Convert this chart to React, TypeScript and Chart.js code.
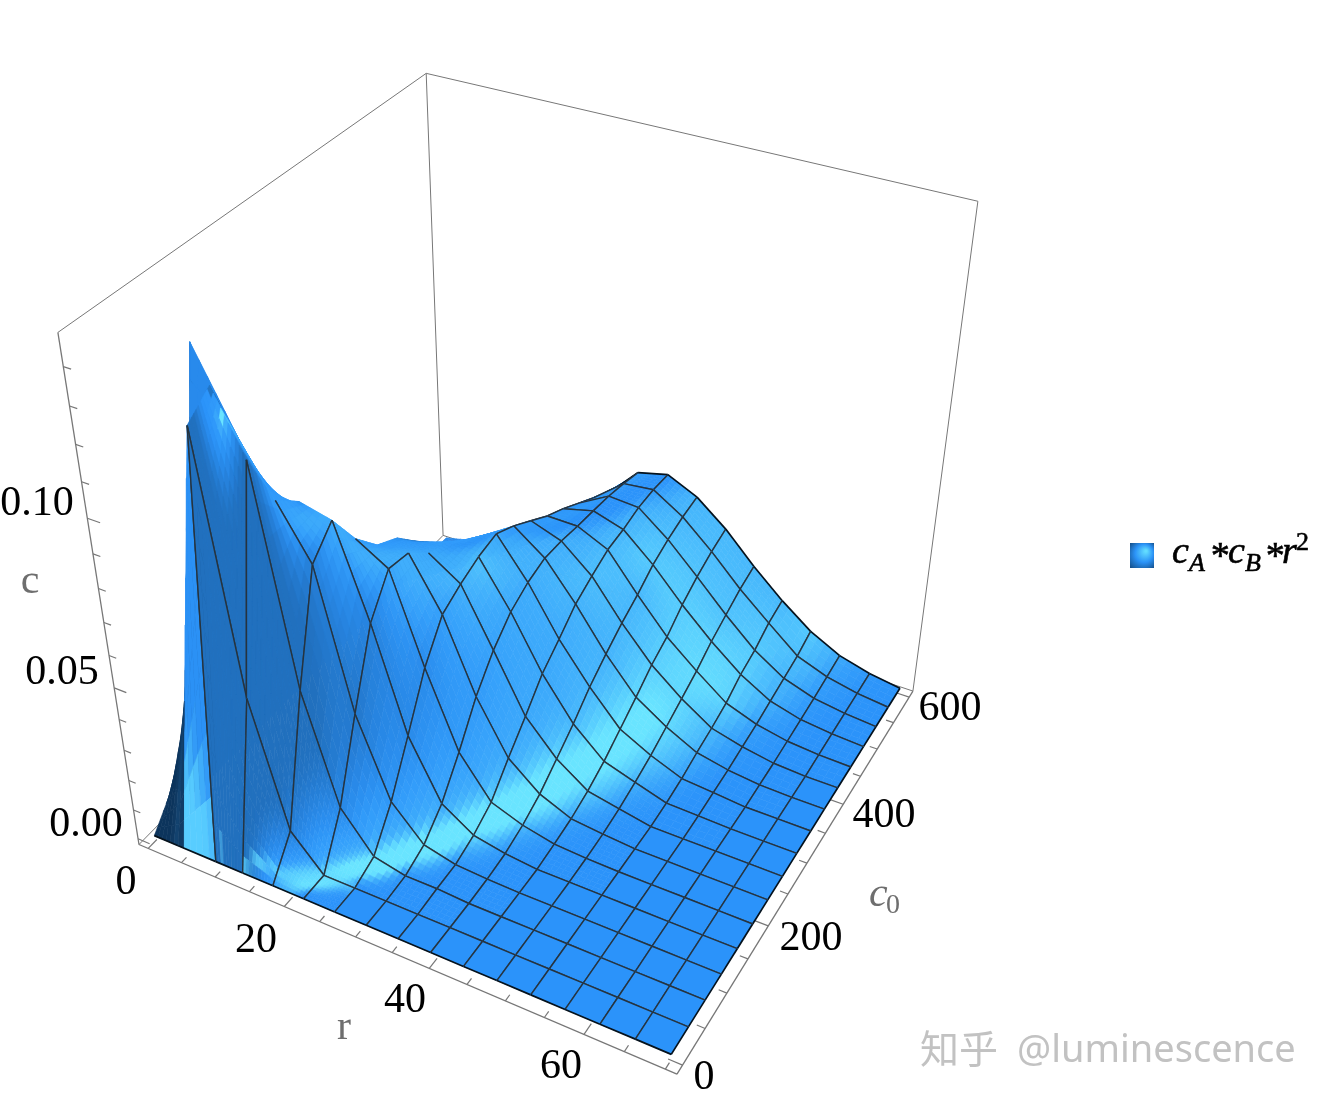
import React, { useEffect, useRef } from "react";
import { Chart, registerables } from "chart.js";
Chart.register(...registerables);

const rGrid = [0, 3.6, 9.2, 13.125, 17.5, 21.875, 26.25, 30.625, 35, 39.375, 43.75, 48.125, 52.5, 56.875, 61.25, 65.625, 70];
const c0Grid = [0, 37.5, 75, 112.5, 150, 187.5, 225, 262.5, 300, 337.5, 375, 412.5, 450, 487.5, 525, 562.5, 600];

const zAtR0 = [0, 0.0089, 0, 0, 0, 0, 0, 0, 0, 0, 0, 0, 0, 0, 0, 0, 0];
const zAtR1 = [0, 0.037, 0.078, 0.1333, 0.1044, 0.0855, 0.0597, 0.0477, 0.037, 0.0293, 0.023, 0.0183, 0.0135, 0.0102, 0.0069, 0.0035, 0.0018];
const zAtR2 = [0, 0.125, 0.1303, 0.1094, 0.085, 0.0753, 0.0591, 0.0504, 0.0414, 0.0338, 0.0293, 0.0247, 0.02, 0.0152, 0.0119, 0.0086, 0.0052];
const zAtR3 = [0, 0.0501, 0.1132, 0.0965, 0.0905, 0.0701, 0.0616, 0.0499, 0.0426, 0.0367, 0.0323, 0.0278, 0.0231, 0.0194, 0.0152, 0.012, 0.0086];
const zAtR4 = [0, 0.0109, 0.0494, 0.0812, 0.0882, 0.077, 0.0692, 0.0655, 0.0585, 0.05, 0.0391, 0.0343, 0.0301, 0.0265, 0.0228, 0.019, 0.0151];
const zAtR5 = [0, 0, 0.0153, 0.039, 0.0608, 0.0712, 0.07, 0.0641, 0.0615, 0.0565, 0.052, 0.044, 0.0364, 0.0322, 0.0282, 0.0255, 0.0231];
const zAtR6 = [0, 0, 0.0029, 0.0139, 0.0287, 0.0439, 0.0543, 0.0577, 0.0602, 0.0615, 0.0582, 0.0541, 0.0499, 0.0466, 0.0428, 0.039, 0.035];
const zAtR7 = [0, 0, 0.0006, 0.0034, 0.0099, 0.02, 0.0315, 0.04, 0.046, 0.0493, 0.0511, 0.0507, 0.0497, 0.049, 0.0482, 0.0468, 0.045];
const zAtR8 = [0, 0, 0.0006, 0.0009, 0.0032, 0.007, 0.0147, 0.0218, 0.0293, 0.0342, 0.0395, 0.0425, 0.0452, 0.046, 0.0475, 0.0478, 0.0473];
const zAtR9 = [0, 0, 0, 0.0003, 0.0011, 0.0032, 0.0064, 0.0112, 0.0161, 0.0218, 0.0263, 0.0303, 0.0335, 0.0375, 0.04, 0.0418, 0.0428];
const zAtR10 = [0, 0, 0, 0, 0, 0.0009, 0.002, 0.0041, 0.0071, 0.0111, 0.0152, 0.0196, 0.0227, 0.0273, 0.0307, 0.0333, 0.0351];
const zAtR11 = [0, 0, 0, 0, 0, 0.0003, 0.0009, 0.002, 0.0038, 0.0059, 0.0087, 0.0116, 0.0145, 0.0182, 0.021, 0.0237, 0.0255];
const zAtR12 = [0, 0, 0, 0, 0, 0, 0, 0, 0.0006, 0.0018, 0.0036, 0.0051, 0.007, 0.0103, 0.0122, 0.0153, 0.0169];
const zAtR13 = [0, 0, 0, 0, 0, 0, 0, 0, 0.0003, 0.0009, 0.0015, 0.0024, 0.0033, 0.0046, 0.0059, 0.0072, 0.0095];
const zAtR14 = [0, 0, 0, 0, 0, 0, 0, 0, 0, 0, 0.0003, 0.0006, 0.0012, 0.0018, 0.0025, 0.0034, 0.0044];
const zAtR15 = [0, 0, 0, 0, 0, 0, 0, 0, 0, 0, 0, 0, 0.0003, 0.0006, 0.0009, 0.0012, 0.0016];
const zAtR16 = [0, 0, 0, 0, 0, 0, 0, 0, 0, 0, 0, 0, 0, 0, 0, 0, 0];
const surfaceZ = [zAtR0, zAtR1, zAtR2, zAtR3, zAtR4, zAtR5, zAtR6, zAtR7, zAtR8, zAtR9, zAtR10, zAtR11, zAtR12, zAtR13, zAtR14, zAtR15, zAtR16];

const rTicks = [0, 5, 10, 15, 20, 25, 30, 35, 40, 45, 50, 55, 60, 65, 70];
const c0Ticks = [0, 50, 100, 150, 200, 250, 300, 350, 400, 450, 500, 550, 600];
const zTicks = [0, 0.01, 0.02, 0.03, 0.04, 0.05, 0.06, 0.07, 0.08, 0.09, 0.1, 0.11, 0.12, 0.13, 0.14];
const rMajor = [0, 20, 40, 60];
const c0Major = [0, 200, 400, 600];
const zMajor = [0, 0.05, 0.1];

const R_MIN = -1.4, R_MAX = 71.4, C_MIN = -12, C_MAX = 612, Z_MIN = -0.002, Z_MAX = 0.1485;

// Camera: a projective map of the plot box, solved from where its corners fall on the page.
const boxCorners: [number, number, number, number, number][] = [
  [0, 0, 0, 138, 845], [1, 0, 0, 678, 1073], [1, 1, 0, 912, 693], [0, 1, 0, 444, 534],
  [0, 0, 1, 58, 333], [1, 1, 1, 978, 200], [0, 1, 1, 426, 74],
];
function solveCamera(): number[] {
  const rows: number[][] = [];
  const rhs: number[] = [];
  for (const [u, v, w, px, py] of boxCorners) {
    const x = px / 1000, y = py / 1000;
    rows.push([u, v, w, 1, 0, 0, 0, 0, -x * u, -x * v, -x * w]); rhs.push(x);
    rows.push([0, 0, 0, 0, u, v, w, 1, -y * u, -y * v, -y * w]); rhs.push(y);
  }
  const n = 11;
  const M: number[][] = [];
  for (let i = 0; i < n; i++) {
    const line = new Array(n + 1).fill(0);
    for (let k = 0; k < rows.length; k++) {
      for (let j = 0; j < n; j++) line[j] += rows[k][i] * rows[k][j];
      line[n] += rows[k][i] * rhs[k];
    }
    M.push(line);
  }
  for (let i = 0; i < n; i++) {
    let best = i;
    for (let k = i + 1; k < n; k++) if (Math.abs(M[k][i]) > Math.abs(M[best][i])) best = k;
    [M[i], M[best]] = [M[best], M[i]];
    for (let k = 0; k < n; k++) {
      if (k === i) continue;
      const f = M[k][i] / M[i][i];
      for (let j = i; j <= n; j++) M[k][j] -= f * M[i][j];
    }
  }
  return M.map((l, i) => l[n] / l[i]);
}
const cam = solveCamera();
const uOf = (r: number) => (r - R_MIN) / (R_MAX - R_MIN);
const vOf = (c: number) => (c - C_MIN) / (C_MAX - C_MIN);
const wOf = (z: number) => (z - Z_MIN) / (Z_MAX - Z_MIN);
function projectBox(u: number, v: number, w: number) {
  const d = cam[8] * u + cam[9] * v + cam[10] * w + 1;
  return {
    x: (1000 * (cam[0] * u + cam[1] * v + cam[2] * w + cam[3])) / d,
    y: (1000 * (cam[4] * u + cam[5] * v + cam[6] * w + cam[7])) / d,
  };
}
const project = (r: number, c: number, z: number) => projectBox(uOf(r), vOf(c), wOf(z));

const mix = (a: number[], b: number[], t: number) => a.map((x, i) => x + (b[i] - x) * t);
const smooth = (e0: number, e1: number, x: number) => {
  const t = Math.min(1, Math.max(0, (x - e0) / (e1 - e0)));
  return t * t * (3 - 2 * t);
};
const FLAT = [43, 147, 250];
const GLOW = [105, 228, 255];
const DEEP = [33, 112, 190];
const NAVY = [10, 50, 90];
const css = (c: number[]) => `rgb(${Math.round(c[0])},${Math.round(c[1])},${Math.round(c[2])})`;
function shade(gx: number, gy: number): number[] {
  let c = FLAT;
  const s = Math.hypot(gx, gy);
  const sy = gy < 0.5 ? 0.17 : 0.4;
  const hi = Math.exp(-(((gx + 0.62) ** 2) / (2 * 0.32 * 0.32) + ((gy - 0.5) ** 2) / (2 * sy * sy))) * smooth(0.1, 0.5, s);
  const wide = 0.35 * Math.exp(-(((gx + 1) ** 2) + ((gy - 0.2) ** 2)) / (2 * 1.0 * 1.0)) * smooth(0.1, 0.6, s);
  c = mix(c, GLOW, Math.min(1, hi + wide));
  c = mix(c, DEEP, smooth(2, 5.5, s));
  const ndv = (-0.55 * gx + 0.6 * gy + 0.58) / Math.hypot(gx, gy, 1);
  c = mix(c, NAVY, 0.45 * smooth(-0.05, -0.3, ndv));
  return c;
}

const zN = (a: number, b: number) => wOf(surfaceZ[a][b]);
function gradAt(a: number, b: number): [number, number] {
  const a0 = Math.max(0, a - 1), a1 = Math.min(16, a + 1), b0 = Math.max(0, b - 1), b1 = Math.min(16, b + 1);
  return [
    (zN(a1, b) - zN(a0, b)) / (uOf(rGrid[a1]) - uOf(rGrid[a0])),
    (zN(a, b1) - zN(a, b0)) / (vOf(c0Grid[b1]) - vOf(c0Grid[b0])),
  ];
}

function cellColour(a: number, b: number, s: number, t: number, gx: number, gy: number) {
  if (a === 0) {
    if (b > 2) return mix(FLAT, [36, 128, 222], 0.5);
    return mix([12, 52, 92], [20, 68, 112], smooth(0.6, 1, s));
  }
  if (a === 1) {
    if (b === 0) {
      if (s < 0.22 && t < 0.95) return [16, 60, 102];
      const T = 0.8 - 0.5 * s;
      return mix([88, 205, 255], [43, 145, 245], smooth(T - 0.4, T + 0.02, t));
    }
    return mix(FLAT, [36, 128, 222], 0.5);
  }
  let c = shade(gx, gy);
  const BAND = [95, 215, 255];
  if (a === 2 && b === 0) {
    c = mix(c, [100, 212, 255], 0.8 * Math.exp(-((s - 0.25) ** 2) / 0.0025) * (1 - smooth(0.0, 0.1, t)));
  }
  const streak = (T: number, w: number, k: number) => {
    c = mix(c, BAND, k * Math.exp(-((t - T) ** 2) / (2 * w * w)));
  };
  if (a === 3 && b === 0) streak(0.05 + 0.2 * s, 0.025 + 0.04 * s, 0.75);
  if (a === 4 && b === 0) streak(0.25 + 0.7 * s * s, 0.07 + 0.2 * s, 0.75);
  if (a === 5 && b === 0) streak(1, 0.18, 0.55);
  if (a === 5 && b === 1) streak(0, 0.12, 0.55);
  return c;
}

function buildDatasets() {
  const back: any[] = [], mid: any[] = [];
  const seg = (list: any[], pts: { x: number; y: number }[], color: string, width: number) =>
    list.push({ type: "line", data: pts, borderColor: color, borderWidth: width, pointRadius: 0, fill: false, tension: 0, parsing: false });
  const GREY = "#777777";
  const A = projectBox(0, 0, 0), B = projectBox(1, 0, 0), C = projectBox(1, 1, 0), D = projectBox(0, 1, 0);
  const A1 = projectBox(0, 0, 1), C1 = projectBox(1, 1, 1), D1 = projectBox(0, 1, 1);
  seg(back, [A1, D1], GREY, 1);
  seg(back, [D1, C1], GREY, 1);
  seg(back, [D1, D], GREY, 1);
  seg(back, [C1, C], GREY, 1);
  seg(back, [A, D], GREY, 1);
  seg(back, [D, C], GREY, 1);
  seg(back, [A, A1], GREY, 1.3);
  seg(back, [A, B], GREY, 1.3);
  seg(back, [B, C], GREY, 1.3);
  rTicks.forEach((t) => {
    const len = rMajor.includes(t) ? 0.024 : 0.014;
    seg(back, [projectBox(uOf(t), 0, 0), projectBox(uOf(t), len, 0)], GREY, 1.2);
  });
  c0Ticks.forEach((t) => {
    const len = c0Major.includes(t) ? 0.024 : 0.014;
    seg(back, [projectBox(1, vOf(t), 0), projectBox(1 - len, vOf(t), 0)], GREY, 1.2);
  });
  zTicks.forEach((t) => {
    const len = zMajor.includes(t) ? 0.024 : 0.014;
    seg(back, [projectBox(0, 0, wOf(t)), projectBox(len, 0, wOf(t))], GREY, 1.2);
  });

  const MESH = "#26333e";
  const EDGE = "#06121c";
  for (let a = 0; a < 16; a++) {
    for (let b = 15; b >= 0; b--) {
      const z00 = surfaceZ[a][b], z10 = surfaceZ[a + 1][b], z01 = surfaceZ[a][b + 1], z11 = surfaceZ[a + 1][b + 1];
      const flat = Math.max(z00, z10, z01, z11) < 0.0002;
      const S = flat ? 1 : a < 12 ? 6 : 4;
      const g00 = gradAt(a, b), g10 = gradAt(a + 1, b), g01 = gradAt(a, b + 1), g11 = gradAt(a + 1, b + 1);
      const at = (s: number, t: number) => {
        const r = rGrid[a] + (rGrid[a + 1] - rGrid[a]) * s;
        const c = c0Grid[b] + (c0Grid[b + 1] - c0Grid[b]) * t;
        const z = z00 * (1 - s) * (1 - t) + z10 * s * (1 - t) + z01 * (1 - s) * t + z11 * s * t;
        return project(r, c, z);
      };
      const Sb = (a >= 2 && a <= 5 && b <= 1) ? 10 : S;
      for (let i = 0; i < Sb; i++) {
        for (let j = Sb - 1; j >= 0; j--) {
          const s0 = i / Sb, s1 = (i + 1) / Sb, t0 = j / Sb, t1 = (j + 1) / Sb;
          const sm = (s0 + s1) / 2, tm = (t0 + t1) / 2;
          const gx = g00[0] * (1 - sm) * (1 - tm) + g10[0] * sm * (1 - tm) + g01[0] * (1 - sm) * tm + g11[0] * sm * tm;
          const gy = g00[1] * (1 - sm) * (1 - tm) + g10[1] * sm * (1 - tm) + g01[1] * (1 - sm) * tm + g11[1] * sm * tm;
          const col = css(cellColour(a, b, sm, tm, gx, gy));
          const p0 = at(s0, t0), p1 = at(s1, t0), p2 = at(s1, t1), p3 = at(s0, t1);
          mid.push({
            type: "line",
            data: [p0, p1, p2, p3, p0],
            borderColor: col,
            backgroundColor: col,
            borderWidth: 0.6,
            fill: "shape",
            pointRadius: 0,
            tension: 0,
            parsing: false,
          });
        }
      }
      const P = (x: number, y: number) => project(rGrid[x], c0Grid[y], surfaceZ[x][y]);
      const rLineShown = (x: number, y: number) => {
        if (x < 2) return false;
        if (x === 2) return y < 1;
        if (x === 3) return y < 2;
        if (x === 4) return y < 4;
        if (x === 5) return y < 6;
        return true;
      };
      const cLineShown = (x: number, y: number) => {
        if (x < 2) return false;
        if (x === 2) return y === 0 || y === 1;
        if (x === 3) return y <= 3;
        if (x === 4) return y <= 5;
        if (x === 5) return y <= 7;
        return true;
      };
      if (rLineShown(a, b)) seg(mid, [P(a, b), P(a, b + 1)], MESH, 1.4);
      if (rLineShown(a + 1, b)) seg(mid, [P(a + 1, b), P(a + 1, b + 1)], a + 1 === 16 ? EDGE : MESH, a + 1 === 16 ? 1.7 : 1.4);
      if (b === 0) seg(mid, [P(a, 0), P(a + 1, 0)], EDGE, 1.7);
      else if (cLineShown(a, b)) seg(mid, [P(a, b), P(a + 1, b)], MESH, 1.4);
      if (b + 1 === 16) {
        if (a >= 6) seg(mid, [P(a, 16), P(a + 1, 16)], EDGE, 1.7);
      } else if (cLineShown(a, b + 1)) seg(mid, [P(a, b + 1), P(a + 1, b + 1)], MESH, 1.4);
    }
  }
  const all = [...back, ...mid];
  all.forEach((d, k) => (d.order = -k));
  return all;
}

const SERIF = "'Liberation Serif'";
const tickText: [string, number, number][] = [
  ["0.10", 37, 504], ["0.05", 62, 673], ["0.00", 86, 825],
  ["0", 126, 883], ["20", 256, 941], ["40", 405, 1001], ["60", 561, 1067],
  ["0", 704, 1078], ["200", 811, 939], ["400", 884, 816], ["600", 950, 709],
];

const textPlugin = {
  id: "labels3d",
  afterDraw(chart: any) {
    const ctx = chart.ctx;
    const sx = chart.scales.x, sy = chart.scales.y;
    const X = (v: number) => sx.getPixelForValue(v), Y = (v: number) => sy.getPixelForValue(v);
    ctx.save();
    ctx.textAlign = "center";
    ctx.textBaseline = "middle";
    ctx.fillStyle = "#000";
    ctx.font = `42px ${SERIF}`;
    tickText.forEach(([t, x, y]) => ctx.fillText(t, X(x), Y(y)));
    ctx.fillStyle = "#6e6e6e";
    ctx.font = `42px ${SERIF}`;
    ctx.fillText("c", X(30), Y(582));
    ctx.fillText("r", X(344), Y(1028));
    ctx.textAlign = "left";
    ctx.textBaseline = "alphabetic";
    ctx.font = `italic 42px ${SERIF}`;
    ctx.fillText("c", X(869), Y(906));
    ctx.font = `28px ${SERIF}`;
    ctx.fillText("0", X(886), Y(913));

    const grad = ctx.createRadialGradient(X(1146), Y(551), 1, X(1142), Y(556), 19);
    grad.addColorStop(0, "#62dcff");
    grad.addColorStop(0.45, "#2b93f7");
    grad.addColorStop(1, "#0f3f70");
    ctx.fillStyle = grad;
    ctx.fillRect(X(1130), Y(543), 24, 25);

    ctx.fillStyle = "#000";
    ctx.strokeStyle = "#000";
    ctx.lineWidth = 0.6;
    const piece = (t: string, x: number, y: number, f: string) => {
      ctx.font = f;
      ctx.fillText(t, X(x), Y(y));
      ctx.strokeText(t, X(x), Y(y));
    };
    const big = `italic 38px ${SERIF}`, sub = `italic 26px ${SERIF}`;
    piece("c", 1172, 563, big);
    piece("A", 1189, 571, sub);
    piece("*", 1209, 568, big);
    piece("c", 1228, 563, big);
    piece("B", 1245, 571, sub);
    piece("*", 1264, 568, big);
    piece("r", 1282, 563, big);
    piece("2", 1296, 550, `26px ${SERIF}`);

    ctx.fillStyle = "#c2c2c2";
    ctx.font = `39px 'Noto Sans CJK SC'`;
    ctx.fillText("知乎", X(920), Y(1063), 80);
    ctx.font = `38px 'Noto Sans'`;
    ctx.fillText("@luminescence", X(1017), Y(1062), 279);
    ctx.restore();
  },
};

export default function App() {
  const ref = useRef<HTMLCanvasElement>(null);
  useEffect(() => {
    const chart = new Chart(ref.current!, {
      type: "line",
      data: { datasets: buildDatasets() },
      options: {
        animation: false,
        responsive: false,
        devicePixelRatio: 1,
        layout: { padding: 0 },
        normalized: true,
        events: [],
        plugins: { legend: { display: false }, tooltip: { enabled: false }, title: { display: false } },
        scales: {
          x: { type: "linear", min: 0, max: 1328, display: false },
          y: { type: "linear", min: 0, max: 1104, reverse: true, display: false },
        },
      },
      plugins: [textPlugin],
    } as any);
    return () => chart.destroy();
  }, []);
  return (
    <div style={{ position: "fixed", left: 0, top: 0, width: 1328, height: 1104, background: "#fff" }}>
      <canvas ref={ref} width={1328} height={1104} style={{ display: "block" }} />
    </div>
  );
}
